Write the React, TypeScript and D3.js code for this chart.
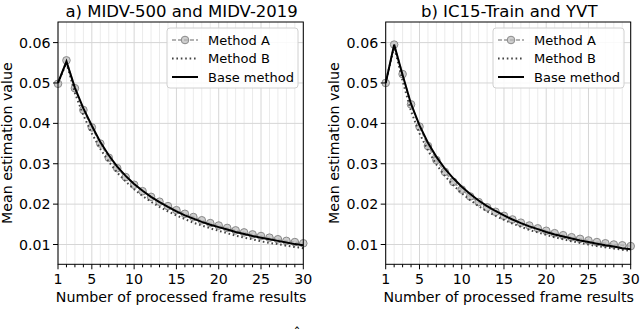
import React from "react";
import * as d3 from "d3";

// frame index (x axis)
const frames = [1, 2, 3, 4, 5, 6, 7, 8, 9, 10, 11, 12, 13, 14, 15, 16, 17, 18, 19, 20, 21, 22, 23, 24, 25, 26, 27, 28, 29, 30];
const xTicks = [1, 5, 10, 15, 20, 25, 30];
const yTicks = [0.01, 0.02, 0.03, 0.04, 0.05, 0.06];
const legendLabels = ["Method A", "Method B", "Base method"];

// a) MIDV-500 and MIDV-2019
const midvMethodA = [0.0498, 0.0556, 0.0487, 0.0433, 0.039, 0.035, 0.0315, 0.0289, 0.0267, 0.0248, 0.0232, 0.0218, 0.0206, 0.0195, 0.0185, 0.0176, 0.0168, 0.016, 0.0153, 0.0147, 0.0141, 0.0135, 0.013, 0.0125, 0.0121, 0.0117, 0.0113, 0.0109, 0.0106, 0.0103];
const midvMethodB = [0.05, 0.055, 0.0475, 0.042, 0.0375, 0.0337, 0.0305, 0.0278, 0.0256, 0.0237, 0.022, 0.0206, 0.0193, 0.0182, 0.0172, 0.0163, 0.0154, 0.0147, 0.014, 0.0134, 0.0128, 0.0122, 0.0117, 0.0113, 0.0108, 0.0104, 0.0101, 0.0097, 0.0094, 0.0091];
const midvBase = [0.05, 0.0553, 0.0488, 0.0437, 0.0394, 0.0354, 0.0321, 0.0293, 0.027, 0.025, 0.0233, 0.0218, 0.0205, 0.0193, 0.0182, 0.0172, 0.0164, 0.0156, 0.0149, 0.0143, 0.0137, 0.0131, 0.0126, 0.0121, 0.0117, 0.0113, 0.0109, 0.0105, 0.0101, 0.0098];

// b) IC15-Train and YVT
const icMethodA = [0.05, 0.0595, 0.0522, 0.0447, 0.0392, 0.0344, 0.0309, 0.028, 0.0255, 0.0236, 0.0219, 0.0205, 0.0192, 0.0181, 0.0171, 0.0162, 0.0154, 0.0147, 0.014, 0.0134, 0.0128, 0.0123, 0.0118, 0.0114, 0.011, 0.0106, 0.0103, 0.01, 0.0098, 0.0096];
const icMethodB = [0.05, 0.059, 0.0505, 0.043, 0.0375, 0.0333, 0.0298, 0.027, 0.0247, 0.0227, 0.021, 0.0195, 0.0182, 0.0171, 0.0161, 0.0152, 0.0144, 0.0136, 0.013, 0.0124, 0.0118, 0.0113, 0.0108, 0.0104, 0.01, 0.0096, 0.0093, 0.009, 0.0087, 0.0084];
const icBase = [0.05, 0.0595, 0.052, 0.0448, 0.0395, 0.0352, 0.0317, 0.0288, 0.0264, 0.0243, 0.0225, 0.0209, 0.0195, 0.0183, 0.0172, 0.0162, 0.0153, 0.0145, 0.0138, 0.0131, 0.0125, 0.012, 0.0115, 0.011, 0.0106, 0.0102, 0.0098, 0.0095, 0.0091, 0.0088];

const FONT = "DejaVu Sans, sans-serif";
const top = 22;
const bottom = 264.3;

const Panel = ({ title, left, right, a, b, base, legendX }) => {
  const x = d3.scaleLinear().domain([1, 30]).range([left, right]);
  const y = d3.scaleLinear().domain([0.0051, 0.0651]).range([bottom, top]);

  const line = d3
    .line<number>()
    .x((d, i) => x(frames[i]))
    .y((d) => y(d));

  const cx = (left + right) / 2;

  return (
    <g>
      {/* grid */}
      {frames.map((f) => (
        <line
          key={"v" + f}
          x1={x(f)}
          x2={x(f)}
          y1={top}
          y2={bottom}
          stroke={xTicks.includes(f) ? "#d6d6d6" : "#ebebeb"}
          strokeWidth={1}
        />
      ))}
      {yTicks.map((t) => (
        <line key={"h" + t} x1={left} x2={right} y1={y(t)} y2={y(t)} stroke="#d6d6d6" strokeWidth={1} />
      ))}

      {/* series */}
      <path d={line(a)} fill="none" stroke="#999" strokeWidth={1.5} strokeDasharray="4,2" />
      {a.map((v, i) => (
        <circle key={"m" + i} cx={x(frames[i])} cy={y(v)} r={3.8} fill="#bbb" fillOpacity={0.7} stroke="#8a8a8a" strokeWidth={1} />
      ))}
      <path d={line(b)} fill="none" stroke="#444" strokeWidth={2} strokeDasharray="1.6,2.8" />
      <path d={line(base)} fill="none" stroke="#000" strokeWidth={2} />

      {/* frame */}
      <rect x={left} y={top} width={right - left} height={bottom - top} fill="none" stroke="#000" strokeWidth={1} />

      {/* y axis */}
      {yTicks.map((t) => (
        <g key={"yt" + t}>
          <line x1={left - 5} x2={left} y1={y(t)} y2={y(t)} stroke="#000" />
          <text x={left - 7.5} y={y(t)} dy="0.36em" textAnchor="end" fontSize={14.2} fontFamily={FONT}>
            {t.toFixed(2)}
          </text>
        </g>
      ))}

      {/* x axis */}
      {frames.map((f) => (
        <line key={"xt" + f} x1={x(f)} x2={x(f)} y1={bottom} y2={bottom + (xTicks.includes(f) ? 5 : 3)} stroke="#000" />
      ))}
      {xTicks.map((t) => (
        <text key={"xl" + t} x={x(t)} y={bottom + 20} textAnchor="middle" fontSize={14.2} fontFamily={FONT}>
          {t}
        </text>
      ))}
      <text x={cx + 0.5} y={301.5} textAnchor="middle" fontSize={14.2} fontFamily={FONT}>
        Number of processed frame results
      </text>
      <text
        transform={`translate(${left - 46.5},${(top + bottom) / 2}) rotate(-90)`}
        textAnchor="middle"
        fontSize={14.2}
        fontFamily={FONT}
      >
        Mean estimation value
      </text>

      {/* title */}
      <text x={cx + 1} y={16.5} textAnchor="middle" fontSize={16.5} fontFamily={FONT}>
        {title}
      </text>

      {/* legend */}
      <g transform={`translate(${legendX},28)`}>
        <rect x={0} y={0} width={131} height={60} rx={3} fill="#fff" fillOpacity={0.85} stroke="#d0d0d0" />
        <line x1={5} x2={31} y1={12} y2={12} stroke="#999" strokeWidth={1.5} strokeDasharray="4,2" />
        <circle cx={18} cy={12} r={3.8} fill="#bbb" fillOpacity={0.7} stroke="#8a8a8a" />
        <line x1={5} x2={31} y1={30.5} y2={30.5} stroke="#444" strokeWidth={2} strokeDasharray="1.6,2.8" />
        <line x1={5} x2={31} y1={49} y2={49} stroke="#000" strokeWidth={2} />
        {legendLabels.map((l, i) => (
          <text key={l} x={41} y={12 + i * 18.5} dy="0.36em" fontSize={13} fontFamily={FONT}>
            {l}
          </text>
        ))}
      </g>
    </g>
  );
};

export default function App() {
  return (
    <div style={{ position: "absolute", left: 0, top: 0 }}>
      <svg width={640} height={334} style={{ display: "block", background: "#fff" }}>
        <Panel title="a) MIDV-500 and MIDV-2019" left={58} right={303.3} a={midvMethodA} b={midvMethodB} base={midvBase} legendX={167} />
        <Panel title="b) IC15-Train and YVT" left={385.7} right={630.7} a={icMethodA} b={icMethodB} base={icBase} legendX={493} />
        <text x={297} y={338} textAnchor="middle" fontSize={14} fontFamily={FONT}>
          ˆ
        </text>
      </svg>
    </div>
  );
}
